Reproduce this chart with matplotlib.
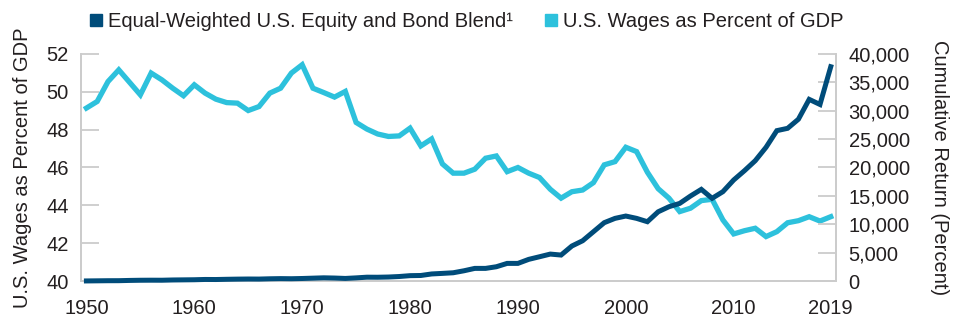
import matplotlib.pyplot as plt
from matplotlib.lines import Line2D

# data
years = list(range(1950, 2020))

wages_pct_gdp = [
    49.14, 49.49, 50.54, 51.16, 50.50, 49.84, 50.99, 50.63, 50.19, 49.79,
    50.37, 49.93, 49.61, 49.43, 49.40, 49.01, 49.22, 49.93, 50.19, 50.99,
    51.43, 50.19, 49.96, 49.72, 50.02, 48.38, 48.03, 47.77, 47.64, 47.67,
    48.08, 47.14, 47.51, 46.19, 45.70, 45.70, 45.91, 46.49, 46.61, 45.78,
    46.00, 45.70, 45.47, 44.85, 44.38, 44.72, 44.81, 45.20, 46.14, 46.31,
    47.07, 46.84, 45.75, 44.88, 44.38, 43.67, 43.85, 44.25, 44.32, 43.23,
    42.49, 42.66, 42.79, 42.35, 42.61, 43.08, 43.19, 43.40, 43.17, 43.40,
]

blend_cum_return = [
    20, 40, 60, 65, 110, 140, 150, 145, 190, 210,
    230, 280, 270, 310, 340, 360, 350, 400, 430, 410,
    450, 510, 570, 530, 460, 560, 680, 670, 710, 800,
    950, 980, 1250, 1350, 1460, 1810, 2230, 2230, 2520, 3110,
    3110, 3820, 4280, 4750, 4580, 6170, 7100, 8690, 10280, 11040,
    11450, 11040, 10450, 12200, 13090, 13680, 14980, 16150, 14570, 15740,
    17800, 19440, 21200, 23560, 26490, 26900, 28500, 32000, 31100, 37750,
]

x_ticks = [1950, 1960, 1970, 1980, 1990, 2000, 2010, 2019]
left_ticks = [40, 42, 44, 46, 48, 50, 52]
right_ticks = list(range(0, 40001, 5000))

dark = '#004c7a'
light = '#2dc1dc'
grey = '#cccccc'
text_col = '#231f20'
fs = 14.5

plt.rcParams['font.family'] = ['Liberation Sans', 'DejaVu Sans']
plt.rcParams['font.size'] = fs

fig = plt.figure(figsize=(9.6, 3.33), dpi=100)
ax = fig.add_axes([0.0844, 0.156, 0.7866, 0.682])
ax2 = ax.twinx()

ax.plot(years, wages_pct_gdp, color=light, lw=3.8, solid_joinstyle='miter', zorder=2)
ax2.plot(years, blend_cum_return, color=dark, lw=3.6, solid_joinstyle='miter', clip_on=False, zorder=3)

ax.set_xlim(1949.5, 2019.5)
ax.set_ylim(40, 52)
ax2.set_ylim(0, 40000)

ax.set_xticks(x_ticks)
ax.set_yticks(left_ticks)
ax2.set_yticks(right_ticks)
ax2.set_yticklabels([f'{v:,}' for v in right_ticks])

for a in (ax, ax2):
    for s in a.spines.values():
        s.set_color(grey)
        s.set_linewidth(1.3)
    a.spines['top'].set_visible(False)
    a.tick_params(colors=text_col, labelsize=fs)

ax.tick_params(axis='y', direction='in', length=13, width=1.3, color=grey, pad=9)
ax2.tick_params(axis='y', direction='in', length=13, width=1.3, color=grey, pad=9)
ax.tick_params(axis='x', length=0, pad=13)

ax.set_ylabel('U.S. Wages as Percent of GDP', fontsize=fs, color=text_col, labelpad=10)
ax2.set_ylabel('Cumulative Return (Percent)', fontsize=fs, color=text_col, rotation=270,
               labelpad=28)

# legend across the top
handles = [
    Line2D([], [], marker='s', ls='none', color=dark, markersize=8),
    Line2D([], [], marker='s', ls='none', color=light, markersize=8),
]
labels = ['Equal-Weighted U.S. Equity and Bond Blend¹', 'U.S. Wages as Percent of GDP']
fig.legend(handles, labels, loc='center', bbox_to_anchor=(0.484, 0.935), ncol=2, frameon=False,
           fontsize=fs, handletextpad=0.1, columnspacing=1.4, handlelength=1.0,
           labelcolor=text_col)

fig.savefig('out.png', dpi=100)
